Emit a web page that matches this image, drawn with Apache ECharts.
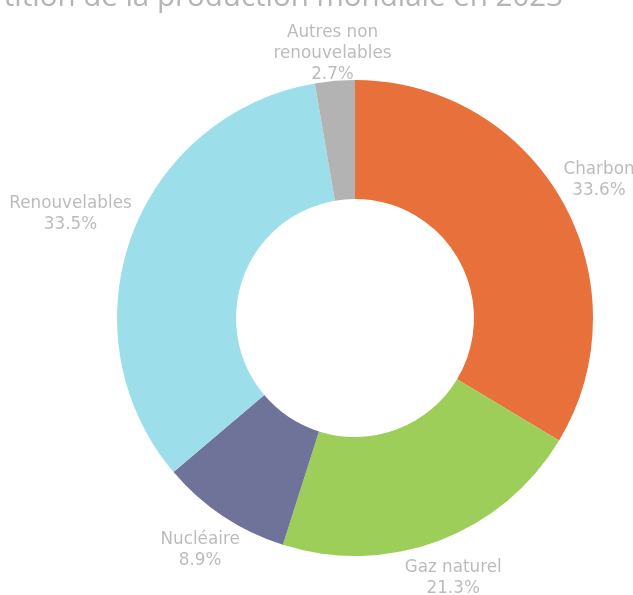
<!DOCTYPE html>
<html><head><meta charset="utf-8">
<script src="https://cdn.jsdelivr.net/npm/echarts@6/dist/echarts.min.js"></script>
<style>html,body{margin:0;padding:0;background:#fff;}#c{width:633px;height:595px;}</style>
</head><body><div id="c"></div>
<script>
var titleText = 'Répartition de la production mondiale en 2023';
var categories = ['Charbon', 'Gaz naturel', 'Nucléaire', 'Renouvelables', 'Autres non\nrenouvelables'];
var shares = [33.6, 21.3, 8.9, 33.5, 2.7];
var colors = ['#E8703A', '#9DCE5A', '#6F7399', '#9DDEEB', '#B3B3B3'];

var CX = 355, CY = 318;
var LABEL_FONT = 'DejaVu Sans', LABEL_SIZE = 16.8, LABEL_LH = 21;
var measureCtx = document.createElement('canvas').getContext('2d');
measureCtx.font = LABEL_SIZE + 'px "' + LABEL_FONT + '"';

var chart = echarts.init(document.getElementById('c'), null, {renderer: 'canvas'});
var data = categories.map(function (c, i) {
  return {name: c, value: shares[i], itemStyle: {color: colors[i]}};
});
function midDir(i) {
  var tot = shares.reduce(function (a, b) { return a + b; }, 0), acc = 0;
  for (var k = 0; k < i; k++) acc += shares[k];
  var a = (acc + shares[i] / 2) / tot * 2 * Math.PI;
  return [Math.sin(a), -Math.cos(a)];
}
chart.setOption({
  animation: false,
  backgroundColor: '#ffffff',
  title: {
    text: titleText, right: 70, top: -17.5, padding: 0,
    textStyle: {color: '#b5b5b5', fontSize: 29.5, fontWeight: 'normal', fontFamily: 'Open Sans'}
  },
  series: [{
    type: 'pie',
    center: [CX, CY],
    radius: [119, 238],
    startAngle: 90,
    clockwise: true,
    avoidLabelOverlap: false,
    data: data,
    label: {
      show: true, position: 'outside',
      formatter: function (p) { return p.name + '\n' + p.value.toFixed(1) + '%'; },
      color: '#bcbcbc', fontSize: LABEL_SIZE, lineHeight: LABEL_LH, fontFamily: LABEL_FONT,
      width: 160, overflow: 'none', distanceToLabelLine: 0
    },
    labelLine: {show: true, length: 40, length2: 0, lineStyle: {opacity: 0, width: 0}},
    labelLayout: function (p) {
      var d;
      var pts = p.labelLinePoints;
      if (pts && pts[0]) {
        var dx = pts[0][0] - CX, dy = pts[0][1] - CY, len = Math.sqrt(dx * dx + dy * dy) || 1;
        d = [dx / len, dy / len];
      } else {
        d = midDir(p.dataIndex);
      }
      var lines = String(p.text).split('\n');
      var w = 0;
      lines.forEach(function (l) { w = Math.max(w, measureCtx.measureText(l).width); });
      var h = lines.length * LABEL_LH;
      var tx = Math.abs(d[0]) > 1e-6 ? (w / 2) / Math.abs(d[0]) : Infinity;
      var ty = Math.abs(d[1]) > 1e-6 ? (h / 2) / Math.abs(d[1]) : Infinity;
      var t = Math.min(tx, ty);
      var r = 245 + 11 * d[1] + t;
      return {x: CX + d[0] * r, y: CY + d[1] * r, align: 'center', verticalAlign: 'middle'};
    },
    emphasis: {disabled: true}
  }]
});
</script></body></html>
